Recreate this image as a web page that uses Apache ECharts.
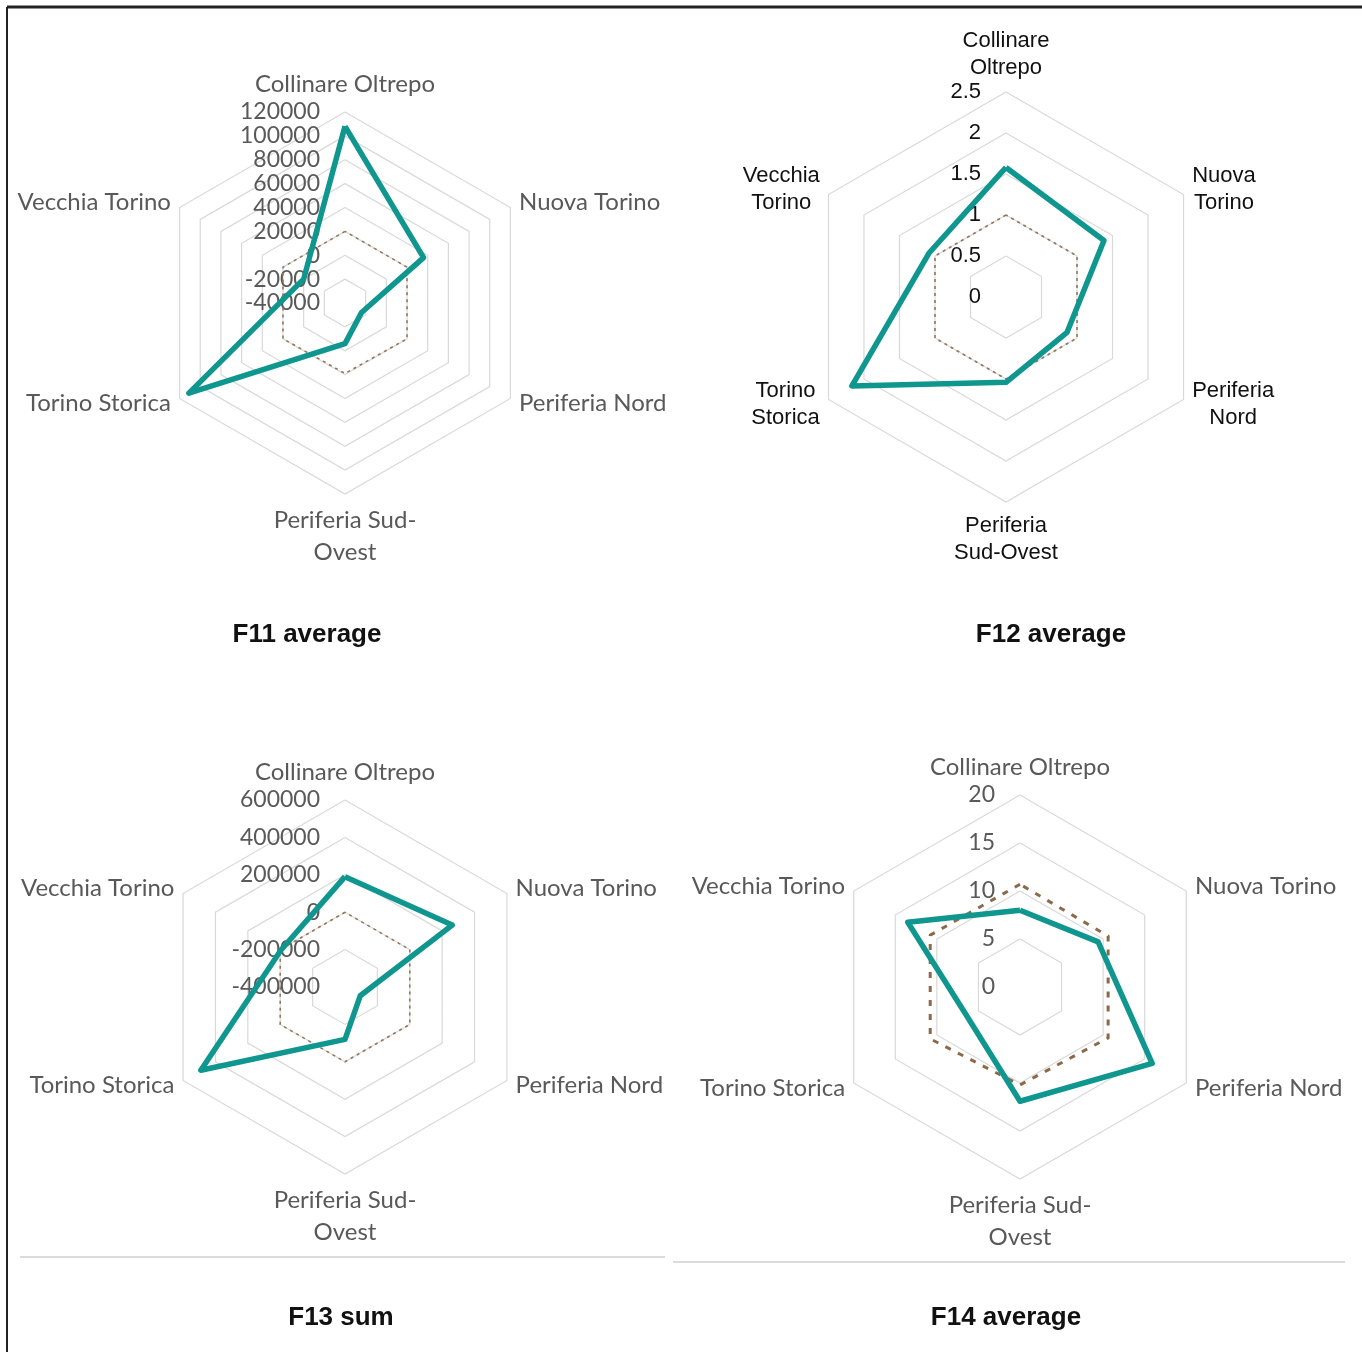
<!DOCTYPE html>
<html><head><meta charset="utf-8">
<script src="https://cdn.jsdelivr.net/npm/echarts@6/dist/echarts.min.js"></script>
<style>html,body{margin:0;padding:0;background:#fff}#c{width:1362px;height:1352px}</style>
</head><body><div id="c"></div>
<script>
// Categories in the reference's clockwise order, starting at the top
const categories = ['Collinare Oltrepo', 'Nuova Torino', 'Periferia Nord', 'Periferia Sud-\nOvest', 'Torino Storica', 'Vecchia Torino'];
const categoriesF12 = ['Collinare\nOltrepo', 'Nuova\nTorino', 'Periferia\nNord', 'Periferia\nSud-Ovest', 'Torino\nStorica', 'Vecchia\nTorino'];

const f11Values    = [108000, 36000, -24000, -6000, 111000, 0];
const f11Reference = [20000, 20000, 20000, 19000, 20000, 20000];
const f11Axis = { min: -40000, max: 120000, splitNumber: 8 };

const f12Values    = [1.58, 1.38, 0.86, 1.04, 2.17, 1.08];
const f12Reference = [1, 1, 1, 1, 1, 1];
const f12Axis = { min: 0, max: 2.5, splitNumber: 5 };

const f13Values    = [190000, 262000, -306000, -120000, 490000, -5000];
const f13Reference = [0, 0, 0, 0, 0, 0];
const f13Axis = { min: -400000, max: 600000, splitNumber: 5 };

const f14Values    = [8.0, 9.4, 15.9, 11.9, 6.3, 13.5];
const f14Reference = [10.7, 10.6, 10.6, 10.2, 10.8, 10.8];
const f14Axis = { min: 0, max: 20, splitNumber: 4 };

const titles = ['F11 average', 'F12 average', 'F13 sum', 'F14 average'];

// ECharts places indicators counter-clockwise; reorder to keep the reference's clockwise layout
const ccwOrder = [0, 5, 4, 3, 2, 1];
const reorder = arr => ccwOrder.map(i => arr[i]);

const TEAL = '#0f968f';
const GRID = '#d9d9d9';

function makeRadar(center, radius, names, axis, st) {
  const axisName = { color: st.nameColor, fontFamily: st.font, fontSize: st.nameSize, lineHeight: st.nameLH };
  if (st.centerLines) {
    axisName.formatter = n => n.split('\n').map(l => '{c|' + l + '}').join('\n');
    axisName.rich = { c: { align: 'center', color: st.nameColor, fontFamily: st.font, fontSize: st.nameSize, lineHeight: st.nameLH } };
  }
  return {
    center: center, radius: radius, shape: 'polygon', startAngle: 90,
    splitNumber: axis.splitNumber, nameGap: st.nameGap,
    indicator: reorder(names).map((n, k) => {
      const o = { name: n, min: axis.min, max: axis.max };
      if (k === 0) { o.axisLabel = { show: true }; o.nameGap = st.topGap; }
      return o;
    }),
    axisName: axisName,
    axisLine: { show: false }, axisTick: { show: false },
    axisLabel: { show: false, color: st.labelColor, fontFamily: st.font, fontSize: st.labelSize, margin: st.margin,
                 formatter: v => String(Math.round(v * 100) / 100) },
    splitLine: { lineStyle: { color: GRID, width: 1.2 } },
    splitArea: { show: false }
  };
}

const calibriLike = { nameColor: '#595959', labelColor: '#595959', font: 'Lato', nameSize: 24, nameLH: 32, labelSize: 23, margin: 25, nameGap: 10, topGap: 8 };
const arialLike = { nameColor: '#111', labelColor: '#111', font: '"Liberation Sans", Arial', nameSize: 22, nameLH: 27, labelSize: 22, margin: 25, nameGap: 10, topGap: 7, centerLines: true };

const radars = [
  makeRadar([345, 303], 191, categories, f11Axis, calibriLike),
  makeRadar([1006, 297], 205, categoriesF12, f12Axis, arialLike),
  makeRadar([345, 987], 187, categories, f13Axis, calibriLike),
  makeRadar([1020, 987], 192, categories, f14Axis, calibriLike)
];

const refStyles = [
  { color: '#93775a', width: 1.6, type: [3, 4] },
  { color: '#93775a', width: 1.6, type: [3, 4] },
  { color: '#93775a', width: 1.6, type: [3, 4] },
  { color: '#8b6a4a', width: 3, type: [6, 8] }
];
const valueSets = [f11Values, f12Values, f13Values, f14Values];
const refSets = [f11Reference, f12Reference, f13Reference, f14Reference];

const series = valueSets.map((vals, i) => ({
  type: 'radar', radarIndex: i, symbol: 'none', silent: true,
  data: [
    { value: reorder(refSets[i]), lineStyle: refStyles[i] },
    { value: reorder(vals), lineStyle: { color: TEAL, width: 5.5, join: 'round' } }
  ]
}));

const titlePos = [[307, 635], [1051, 635], [341, 1318], [1006, 1318]];
const graphic = titles.map((t, i) => ({
  type: 'text', x: titlePos[i][0], y: titlePos[i][1],
  style: { text: t, font: 'bold 26px "Liberation Sans", Arial', fill: '#111', align: 'center', verticalAlign: 'middle' }
})).concat([
  { type: 'line', shape: { x1: 7, y1: 7, x2: 1362, y2: 7 }, style: { stroke: '#222', lineWidth: 3 } },
  { type: 'line', shape: { x1: 7, y1: 7, x2: 7, y2: 1352 }, style: { stroke: '#222', lineWidth: 2 } },
  { type: 'line', shape: { x1: 20, y1: 1257, x2: 665, y2: 1257 }, style: { stroke: '#cfcfcf', lineWidth: 1.5 } },
  { type: 'line', shape: { x1: 673, y1: 1262, x2: 1345, y2: 1262 }, style: { stroke: '#cfcfcf', lineWidth: 1.5 } }
]);

const chart = echarts.init(document.getElementById('c'), null, { renderer: 'canvas' });
chart.setOption({
  animation: false,
  backgroundColor: '#fff',
  radar: radars,
  series: series,
  graphic: graphic
});
</script>
</body></html>
